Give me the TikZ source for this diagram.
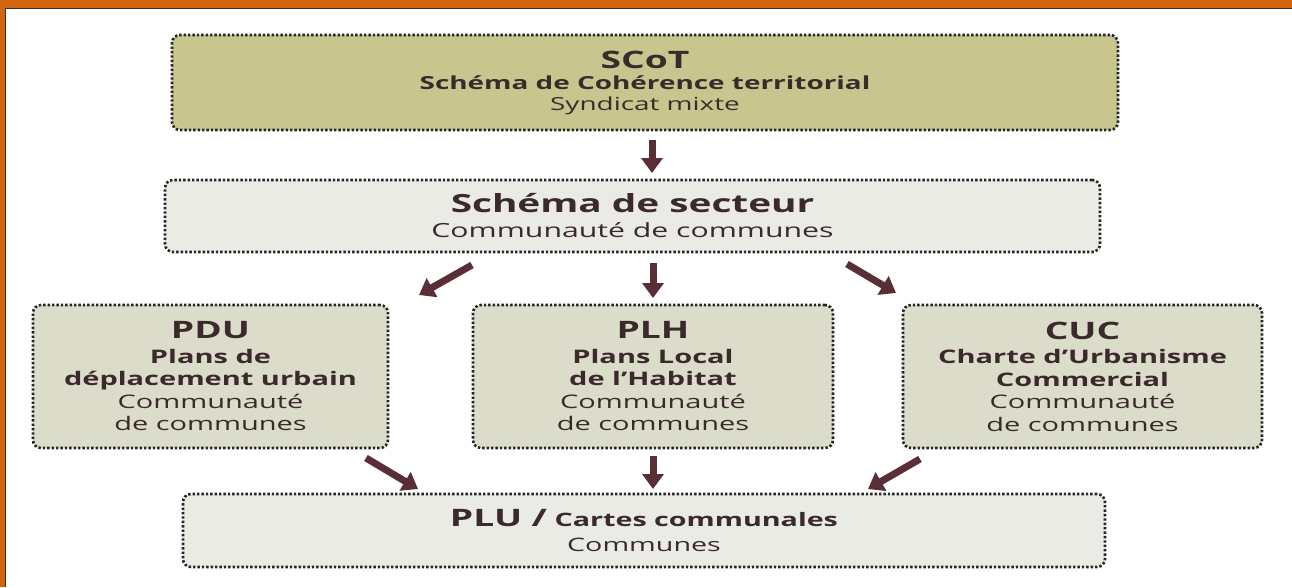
\documentclass[tikz,border=0pt]{standalone}
\usepackage{fontspec}
\setmainfont{Open Sans}[FakeStretch=1.55]
\usetikzlibrary{arrows.meta}
\definecolor{frameor}{HTML}{D4650F}
\definecolor{txt}{HTML}{3B2A2C}
\definecolor{arrowc}{HTML}{5A2E36}
\definecolor{olive}{HTML}{C9C58E}
\definecolor{midfill}{HTML}{DCDCCA}
\definecolor{lightfill}{HTML}{EBEBE5}
\newcommand{\fs}[2]{\fontsize{#1}{#2}\selectfont}
\begin{document}
\begin{tikzpicture}[x=1pt,y=-1pt,
  box/.style={draw=black!85, line width=2.6pt, dash pattern=on 2.4pt off 2pt,
    rounded corners=8pt, align=center, text=txt, inner sep=0pt},
  flow/.style={draw=arrowc, line width=7pt, -{Triangle[width=21pt,length=15pt]}}]
\useasboundingbox (0,0) rectangle (1292,587);
\fill[white] (0,0) rectangle (1292,587);
\fill[frameor] (0,0) rectangle (1292,8);
\fill[frameor] (0,0) rectangle (5,587);
\draw[black!80, line width=1.2pt] (5.6,587) -- (5.6,8.6) -- (1292,8.6);

\node[box, fill=olive, minimum width=946pt, minimum height=95pt,
  font=\fs{18}{20.5}] (scot) at (645,82.5)
  {{\fs{24}{20.5}\bfseries SCoT}\\[1pt]
   {\bfseries Schéma de Cohérence territorial}\\
   Syndicat mixte};

\node[box, fill=lightfill, minimum width=935pt, minimum height=72pt,
  font=\fs{19.5}{25}] (sect) at (632.5,216)
  {{\fs{25}{25}\bfseries Schéma de secteur}\\
   Communauté de communes};

\node[box, fill=midfill, minimum width=355pt, minimum height=143pt,
  font=\fs{18.7}{22.5}] (pdu) at (210.5,376.5)
  {{\fs{24}{22.5}\bfseries PDU}\\[2pt]
   {\bfseries Plans de}\\
   {\bfseries déplacement urbain}\\
   Communauté\\
   de communes};

\node[box, fill=midfill, minimum width=360pt, minimum height=143pt,
  font=\fs{18.7}{22.5}] (plh) at (653,376.5)
  {{\fs{24}{22.5}\bfseries PLH}\\[2pt]
   {\bfseries Plans Local}\\
   {\bfseries de l’Habitat}\\
   Communauté\\
   de communes};

\node[box, fill=midfill, minimum width=359pt, minimum height=143pt,
  font=\fs{18.7}{22.5}] (cuc) at (1082.5,376.5)
  {{\fs{24}{22.5}\bfseries CUC}\\[2pt]
   {\bfseries Charte d’Urbanisme}\\
   {\bfseries Commercial}\\
   Communauté\\
   de communes};

\node[box, fill=lightfill, minimum width=922pt, minimum height=73pt,
  font=\fs{18.5}{25}] (plu) at (644,530.5)
  {{\fs{24}{25}\bfseries PLU /} {\bfseries Cartes communales}\\
   Communes};

% arrow end points
\coordinate (a1s) at (652,140);  \coordinate (a1e) at (652,173);
\coordinate (a2s) at (472,265);  \coordinate (a2e) at (419,295);
\coordinate (a3s) at (653,263);  \coordinate (a3e) at (653,298);
\coordinate (a4s) at (847,264);  \coordinate (a4e) at (896,293);
\coordinate (a5s) at (366,458);  \coordinate (a5e) at (418,489);
\coordinate (a6s) at (653,456);  \coordinate (a6e) at (653,489);
\coordinate (a7s) at (920,459);  \coordinate (a7e) at (868,489);

\draw[flow] (a1s) -- (a1e);
\draw[flow] (a2s) -- (a2e);
\draw[flow] (a3s) -- (a3e);
\draw[flow] (a4s) -- (a4e);
\draw[flow] (a5s) -- (a5e);
\draw[flow] (a6s) -- (a6e);
\draw[flow] (a7s) -- (a7e);
\end{tikzpicture}
\end{document}
